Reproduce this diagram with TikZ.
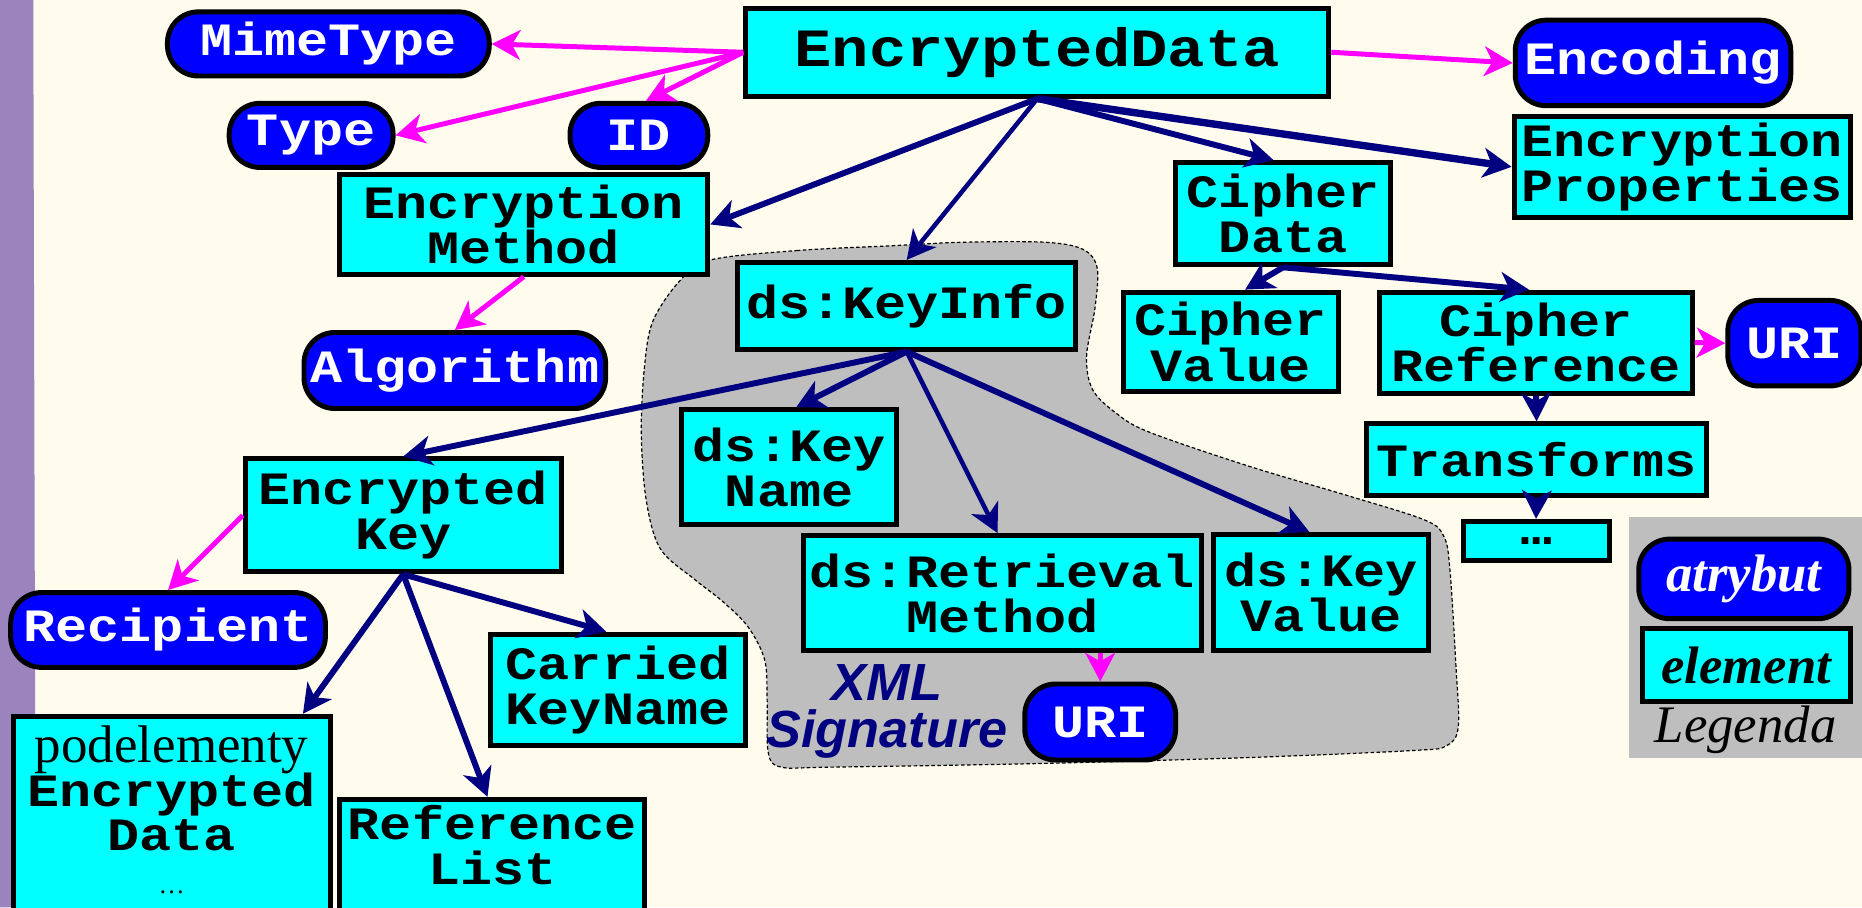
\documentclass[tikz,border=0pt]{standalone}
\usepackage{fontspec}
\setmainfont{Liberation Serif}
\setsansfont{Liberation Sans}
\setmonofont{Liberation Mono}[FakeStretch=1.154]
\usetikzlibrary{arrows.meta,calc}

\definecolor{paper}{RGB}{255,252,238}
\definecolor{strip}{RGB}{155,132,190}
\definecolor{elemfill}{RGB}{0,255,255}
\definecolor{attrfill}{RGB}{0,0,255}
\definecolor{navyline}{RGB}{0,0,128}
\definecolor{magline}{RGB}{255,0,255}
\definecolor{cloud}{RGB}{190,190,190}

\newcommand\monofs{\ttfamily\bfseries\fontsize{19.5}{19}\selectfont}

\tikzset{
  sz/.style 2 args={minimum width=#1*0.5pt, minimum height=#2*0.5pt},
  elem/.style={draw=black, line width=2.1pt, fill=elemfill, inner sep=0pt,
    align=center, font=\monofs},
  elemtext/.style={inner sep=0pt, align=center, font=\monofs},
  attr/.style={draw=black, line width=2.1pt, fill=attrfill, text=white,
    inner sep=0pt, rounded corners=13pt, align=center, font=\monofs},
  arrowhd/.style={-{Stealth[length=12pt,width=12.5pt,inset=3.5pt]}},
  nav/.style={draw=navyline, line width=2.5pt, arrowhd},
  mag/.style={draw=magline, line width=2.1pt, arrowhd},
  legfont/.style={font=\rmfamily\bfseries\itshape\fontsize{22.2}{22}\selectfont},
}

\begin{document}
\begin{tikzpicture}[x=0.5pt, y=-0.5pt]
\lineskiplimit=-50pt
\useasboundingbox (0,0) rectangle (1568,764);
\fill[paper] (0,0) rectangle (1568,764);
\fill[strip] (0,0) -- (28,0) -- (29,380) -- (30,764) -- (0,764) -- cycle;

% XML Signature region
\filldraw[fill=cloud, draw=black, line width=0.5pt, dash pattern=on 1.5pt off 1pt]
  plot[smooth cycle, tension=0.55] coordinates {
    (598,219) (671,211) (750,207) (811,204) (880,204) (912,210) (924,226)
    (922,260) (915,300) (920,328) (940,348) (968,364) (1053,393) (1137,418)
    (1200,438) (1216,452) (1221,480) (1226,560) (1228,612) (1218,628)
    (1190,632) (1050,638) (874,643) (700,646) (658,646) (647,634) (646,590)
    (644,556) (630,528) (608,506) (585,488) (556,462) (544,420) (540,362)
    (543,306) (550,270) (572,237)};

% legend panel
\node[fill=cloud, inner sep=0pt, anchor=north west, sz={210}{203}] (legend) at (1371,435) {};

% elements and attributes
\node[elem, sz={491}{74}, font=\ttfamily\bfseries\fontsize{22.7}{22}\selectfont] (ed) at (873.5,44) {EncryptedData};
\node[attr, sz={271}{54}] (mt) at (276.5,37) {MimeType};
\node[attr, sz={138}{54}] (ty) at (262,114) {Type};
\node[attr, sz={116}{54}] (id) at (538,114) {ID};
\node[attr, sz={232}{72}] (en) at (1392,53) {Encoding};
\node[elem, sz={310}{84}] (em) at (441,189) {Encryption\\Method};
\node[attr, sz={254}{64}] (al) at (383,312) {Algorithm};
\node[elem, sz={283}{85}] (ep) at (1416.5,140.5) {Encryption\\Properties};
\node[elem, sz={181}{86}] (cd) at (1080.5,180) {Cipher\\Data};
\node[elem, sz={285}{73}] (ki) at (763.5,257.5) {ds:KeyInfo};
\node[elem, sz={181}{84}] (cv) at (1036.5,288) {Cipher\\Value};
\node[elem, sz={263}{85}] (cr) at (1293.5,288.5) {Cipher\\Reference};
\node[attr, sz={112}{72}] (u1) at (1511,289) {URI};
\node[elem, sz={286}{60}] (tr) at (1294,387) {Transforms};
\node[elem, sz={123}{33}] (dots) at (1293.5,455.5) {…};
\node[elem, sz={181}{97}] (kn) at (664.5,393.5) {ds:Key\\Name};
\node[elem, sz={335}{97}] (rm) at (844,499.5) {ds:Retrieval\\Method};
\node[elem, sz={181}{98}] (kv) at (1112.5,499) {ds:Key\\Value};
\node[attr, sz={127}{64}] (u2) at (926.5,608) {URI};
\node[inner sep=0pt, align=center, text=navyline,
  font=\sffamily\bfseries\itshape\fontsize{22}{20}\selectfont] (xs) at (747,599) {XML\\Signature};
\node[elem, sz={266}{95}] (ek) at (339.5,434) {Encrypted\\Key};
\node[attr, sz={265}{63}] (rc) at (141.5,530.5) {Recipient};
\node[elem, sz={215}{94}] (ck) at (520.5,581) {Carried\\KeyName};
\node[elem, anchor=north, sz={267}{175}] (pe) at (144.5,601) {};
\node[elemtext, font=\monofs\fontsize{19.5}{18.5}\selectfont] (petext) at (144.5,682)
  {{\rmfamily\mdseries\fontsize{22.3}{18.5}\selectfont podelementy}\\Encrypted\\Data\\{\rmfamily\mdseries\fontsize{11}{11}\selectfont …}};
\node[elem, anchor=north, sz={257}{110}] (rl) at (414.5,671) {};
\node[elemtext] (rltext) at (414.5,712) {Reference\\List};

% legend entries
\node[attr, sz={177}{67}, legfont] (la) at (1468.5,487.5) {atrybut};
\node[elem, sz={175}{62}, legfont] (le) at (1470.5,560) {element};
\node[font=\rmfamily\itshape\fontsize{22.2}{22}\selectfont, anchor=base, inner sep=0pt] (lg) at (1470,625) {Legenda};

% attribute links
\draw[mag] (ed.west) -- (mt.east);
\draw[mag] (ed.west) -- (ty.east);
\draw[mag] (ed.west) -- ([xshift=3pt]id.north);
\draw[mag] (ed.east) -- (en.west);
\draw[mag] (em.south) -- (al.north);
\draw[mag] (ek.west) -- (rc.north);
\draw[mag] (rm.south -| u2.north) -- (u2.north);
\draw[mag] (cr.east) -- (u1.west);

% child element links
\draw[nav] (ed.south) -- (em.east);
\draw[nav, line width=1.9pt] (ed.south) -- (ki.north);
\draw[nav] (ed.south) -- ([xshift=-4pt]cd.north);
\draw[nav, line width=3.1pt] (ed.south) -- (ep.west);
\draw[nav] (cd.south) -- ([xshift=6pt]cv.north);
\draw[nav] (cd.south) -- ([xshift=-3pt]cr.north);
\draw[nav] (cr.south) -- (tr.north);
\draw[nav] (tr.south) -- (dots.north);
\draw[nav] (ki.south) -- (ek.north);
\draw[nav] (ki.south) -- ([xshift=3pt]kn.north);
\draw[nav, line width=1.9pt] (ki.south) -- ([xshift=-2pt]rm.north);
\draw[nav] (ki.south) -- ([xshift=-5pt]kv.north);
\draw[nav] (ek.south) -- ([xshift=-12.5pt]pe.north east);
\draw[nav] (ek.south) -- ([xshift=-2pt]rl.north);
\draw[nav] (ek.south) -- ([xshift=-5pt]ck.north);
\end{tikzpicture}
\end{document}
